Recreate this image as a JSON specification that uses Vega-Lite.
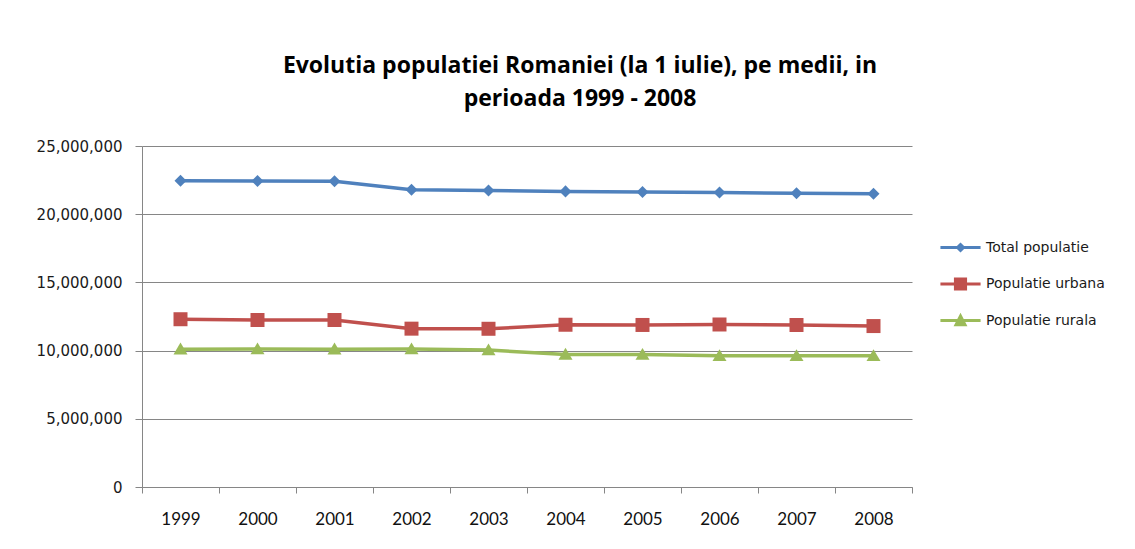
{
  "$schema": "https://vega.github.io/schema/vega-lite/v6.json",
  "autosize": "none",
  "width": 770,
  "height": 341,
  "padding": {"left": 142, "top": 146, "right": 223, "bottom": 62},
  "background": "white",
  "title": {
    "text": ["Evolutia populatiei Romaniei (la 1 iulie), pe medii, in", "perioada 1999 - 2008"],
    "font": "Open Sans",
    "fontWeight": "bold",
    "fontSize": 23,
    "color": "#000000",
    "anchor": "middle",
    "dx": 53,
    "lineHeight": 33,
    "offset": 28
  },
  "data": {
    "values": [
      {"an": "1999", "serie": "Total populatie", "valoare": 22458022},
      {"an": "2000", "serie": "Total populatie", "valoare": 22435205},
      {"an": "2001", "serie": "Total populatie", "valoare": 22408393},
      {"an": "2002", "serie": "Total populatie", "valoare": 21794793},
      {"an": "2003", "serie": "Total populatie", "valoare": 21733556},
      {"an": "2004", "serie": "Total populatie", "valoare": 21673328},
      {"an": "2005", "serie": "Total populatie", "valoare": 21623849},
      {"an": "2006", "serie": "Total populatie", "valoare": 21584365},
      {"an": "2007", "serie": "Total populatie", "valoare": 21537563},
      {"an": "2008", "serie": "Total populatie", "valoare": 21504442},
      {"an": "1999", "serie": "Populatie urbana", "valoare": 12300000},
      {"an": "2000", "serie": "Populatie urbana", "valoare": 12244598},
      {"an": "2001", "serie": "Populatie urbana", "valoare": 12243748},
      {"an": "2002", "serie": "Populatie urbana", "valoare": 11608735},
      {"an": "2003", "serie": "Populatie urbana", "valoare": 11600157},
      {"an": "2004", "serie": "Populatie urbana", "valoare": 11895598},
      {"an": "2005", "serie": "Populatie urbana", "valoare": 11879897},
      {"an": "2006", "serie": "Populatie urbana", "valoare": 11913938},
      {"an": "2007", "serie": "Populatie urbana", "valoare": 11877659},
      {"an": "2008", "serie": "Populatie urbana", "valoare": 11798678},
      {"an": "1999", "serie": "Populatie rurala", "valoare": 10100000},
      {"an": "2000", "serie": "Populatie rurala", "valoare": 10110000},
      {"an": "2001", "serie": "Populatie rurala", "valoare": 10100000},
      {"an": "2002", "serie": "Populatie rurala", "valoare": 10110000},
      {"an": "2003", "serie": "Populatie rurala", "valoare": 10040000},
      {"an": "2004", "serie": "Populatie rurala", "valoare": 9720000},
      {"an": "2005", "serie": "Populatie rurala", "valoare": 9710000},
      {"an": "2006", "serie": "Populatie rurala", "valoare": 9620000},
      {"an": "2007", "serie": "Populatie rurala", "valoare": 9620000},
      {"an": "2008", "serie": "Populatie rurala", "valoare": 9620000}
    ]
  },
  "encoding": {
    "x": {
      "field": "an",
      "type": "ordinal",
      "scale": {"type": "band", "paddingInner": 0, "paddingOuter": 0},
      "axis": {
        "title": null,
        "labelAngle": 0,
        "tickBand": "extent",
        "domainColor": "#868686",
        "tickColor": "#868686",
        "tickSize": 6,
        "labelPadding": 18,
        "labelFont": "Lato",
        "labelFontSize": 17,
        "labelColor": "#111111",
        "grid": false
      }
    },
    "y": {
      "field": "valoare",
      "type": "quantitative",
      "scale": {"domain": [0, 25000000], "nice": false},
      "axis": {
        "title": null,
        "values": [0, 5000000, 10000000, 15000000, 20000000, 25000000],
        "format": ",d",
        "domainColor": "#868686",
        "tickColor": "#868686",
        "gridColor": "#868686",
        "tickSize": 7,
        "labelPadding": 13,
        "labelFont": "DejaVu Sans",
        "labelFontSize": 15,
        "labelColor": "#1a1a1a"
      }
    },
    "color": {
      "field": "serie",
      "type": "nominal",
      "scale": {
        "domain": ["Total populatie", "Populatie urbana", "Populatie rurala"],
        "range": ["#4F81BD", "#C0504D", "#9BBB59"]
      },
      "legend": {
        "title": null,
        "orient": "none",
        "legendX": 800,
        "legendY": 83,
        "padding": 0,
        "symbolSize": 1332,
        "rowPadding": 10.5,
        "labelOffset": 7,
        "labelFont": "DejaVu Sans",
        "labelFontSize": 14,
        "labelColor": "#1a1a1a",
        "symbolStrokeWidth": 0,
        "symbolOpacity": 1,
        "encoding": {
          "symbols": {
            "shape": {"value": {"expr": "datum.value === 'Total populatie' ? 'M-1.1,-0.08H1.1V0.08H-1.1Z M0,-0.28L0.28,0L0,0.28L-0.28,0Z' : datum.value === 'Populatie urbana' ? 'M-1.1,-0.08H1.1V0.08H-1.1Z M-0.36,-0.36H0.36V0.36H-0.36Z' : 'M-1.1,-0.08H1.1V0.08H-1.1Z M0,-0.42L0.38,0.32H-0.38Z'"}},
            "fill": {"value": {"expr": "scale('color', datum.value)"}}
          }
        }
      }
    }
  },
  "layer": [
    {
      "mark": {"type": "line", "strokeWidth": 3.5}
    },
    {
      "transform": [{"filter": "datum.serie === 'Total populatie'"}],
      "mark": {"type": "point", "filled": true, "size": 196, "opacity": 1, "shape": "M0,-0.86L0.86,0L0,0.86L-0.86,0Z"}
    },
    {
      "transform": [{"filter": "datum.serie === 'Populatie urbana'"}],
      "mark": {"type": "point", "filled": true, "size": 196, "opacity": 1, "shape": "M-1,-1H1V1H-1Z"}
    },
    {
      "transform": [{"filter": "datum.serie === 'Populatie rurala'"}],
      "mark": {"type": "point", "filled": true, "size": 196, "opacity": 1, "shape": "M0,-0.95L1,0.75H-1Z"}
    }
  ],
  "config": {
    "view": {"stroke": null}
  }
}
